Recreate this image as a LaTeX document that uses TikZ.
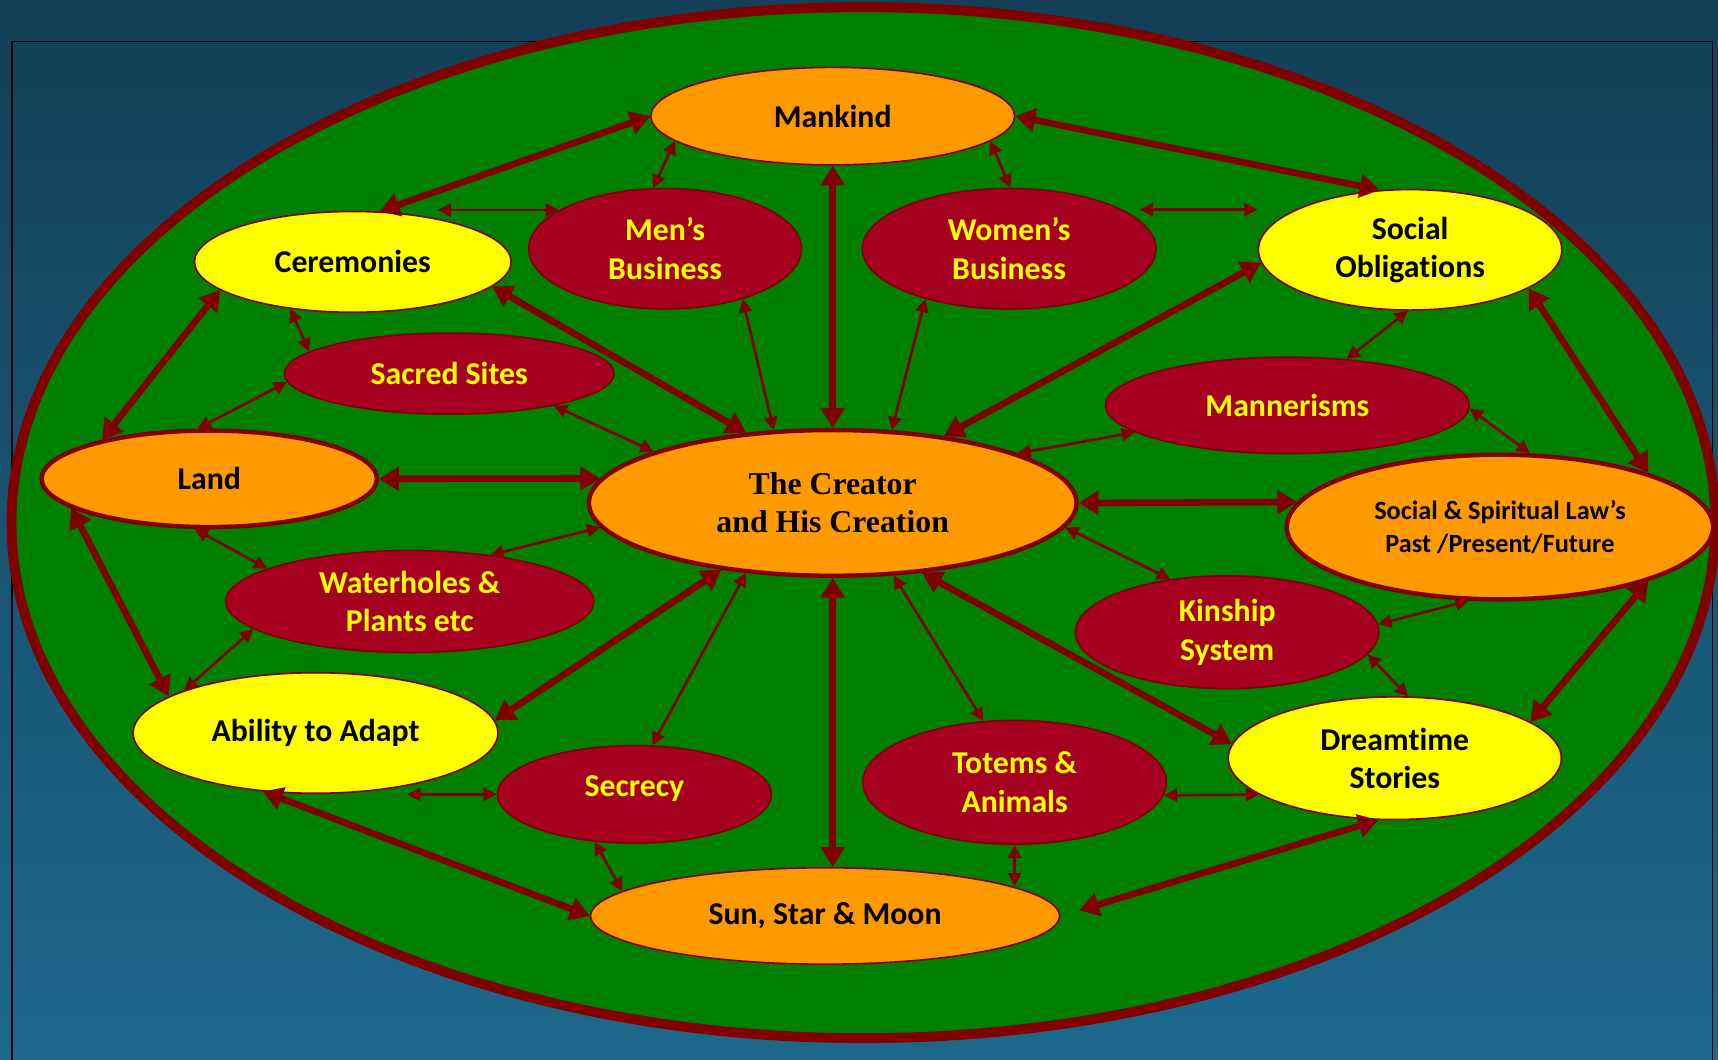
\documentclass[tikz,border=0pt]{standalone}
\usepackage{fontspec}
\setmainfont{Carlito}[Ligatures=NoCommon]
\newfontfamily\timesfam{Liberation Serif}
\usetikzlibrary{arrows.meta, shapes.geometric, positioning}
\definecolor{bgtop}{RGB}{19,63,87}
\definecolor{bgbot}{RGB}{29,104,140}
\definecolor{ringred}{RGB}{128,0,0}
\definecolor{fieldgreen}{RGB}{0,128,0}
\definecolor{ochre}{RGB}{255,153,0}
\definecolor{lemon}{RGB}{255,255,0}
\definecolor{crimson}{RGB}{166,0,33}
\tikzset{
  blob/.style={ellipse, inner sep=0pt, align=center, draw=ringred, line width=1.5pt,
    font=\bfseries\fontsize{29}{35}\selectfont},
  orangeblob/.style={blob, fill=ochre, text=black},
  yellowblob/.style={blob, fill=lemon, text=black},
  redblob/.style={blob, fill=crimson, text=lemon},
  fat/.style={draw=ringred, line width=6pt,
    {Triangle[length=18pt,width=21pt]}-{Triangle[length=18pt,width=21pt]}},
  slim/.style={draw=ringred, line width=2.4pt,
    {Triangle[length=12pt,width=12pt]}-{Triangle[length=12pt,width=12pt]}},
}
\begin{document}
\begin{tikzpicture}[x=1pt, y=-1pt]
            \useasboundingbox (0,0) rectangle (1568,967);
            \shade[top color=bgtop, bottom color=bgbot] (0,0) rectangle (1568,967);
            \draw[black, line width=1.5pt] (11,38) rectangle (1563,990);
            \draw[ringred, fill=fieldgreen, line width=9pt] (788,477) ellipse [x radius=777.5, y radius=470.5];

            \node[orangeblob, minimum width=332pt, minimum height=89pt] (man) at (760,106) {Mankind};
            \node[yellowblob, minimum width=289pt, minimum height=92pt] (cer) at (322,239) {Ceremonies};
            \node[redblob, minimum width=249pt, minimum height=110pt] (men) at (607,227) {Men’s\\Business};
            \node[redblob, minimum width=268pt, minimum height=110pt] (wom) at (921,227) {Women’s\\Business};
            \node[yellowblob, minimum width=277pt, minimum height=110pt] (soc) at (1287,228) {Social\\Obligations};
            \node[redblob, minimum width=301pt, minimum height=74pt] (sac) at (410,341) {Sacred Sites};
            \node[redblob, minimum width=332pt, minimum height=88pt] (mnr) at (1175,370) {Mannerisms};
            \node[orangeblob, line width=4pt, minimum width=306pt, minimum height=88pt] (land) at (191,437) {Land};
            \node[orangeblob, line width=4pt, minimum width=445pt, minimum height=133pt,
                  font=\timesfam\bfseries\fontsize{29}{35}\selectfont] (cre) at (760,459) {The Creator\\and His Creation};
            \node[orangeblob, line width=4pt, minimum width=389pt, minimum height=132pt,
                  font=\bfseries\fontsize{24}{30}\selectfont] (law) at (1369,481) {Social \& Spiritual Law’s\\Past /Present/Future};
            \node[redblob, minimum width=336pt, minimum height=93pt] (wat) at (374,549) {Waterholes \&\\Plants etc};
            \node[redblob, minimum width=277pt, minimum height=103pt] (kin) at (1120,577) {Kinship\\System};
            \node[yellowblob, minimum width=333pt, minimum height=110pt] (abl) at (288,669) {Ability to Adapt};
            \node[yellowblob, minimum width=304pt, minimum height=112pt] (drm) at (1273,692) {Dreamt\kern0pt ime\\Stories};
            \node[redblob, minimum width=250pt, minimum height=89pt, text depth=16pt] (sec) at (579,725) {Secrecy};
            \node[redblob, minimum width=277pt, minimum height=113pt] (tot) at (926,714) {Totems \&\\Animals};
            \node[orangeblob, minimum width=428pt, minimum height=88pt] (sun) at (753,836) {Sun, Star \& Moon};

            \draw[fat] (cer.62) -- (man.180);
            \draw[fat] (man.0) -- (soc.117);
            \draw[fat] (man.south) -- (cre.north);
            \draw[fat] (cer.-10) -- (cre.141);
            \draw[fat] (soc.185) -- (cre.31);
            \draw[fat] (cer.192) -- (land.160);
            \draw[fat] (land.east) -- (cre.174);
            \draw[fat] (cre.east) -- (law.173);
            \draw[fat] (soc.-18) -- (law.20);
            \draw[fat] (land.192) -- (abl.166);
            \draw[fat] (abl.4) -- (cre.211);
            \draw[fat] (cre.-38) -- (drm.175);
            \draw[fat] (law.-20) -- (drm.15);
            \draw[fat] (cre.south) -- (cre.south |- sun.north);
            \draw[fat] (abl.228) -- (sun.west);
            \draw[fat, shorten <=18pt] (sun.east) -- (drm.-105);

            \draw[slim] (man.189) -- (men.101);
            \draw[slim] (man.-9) -- (wom.89);
            \draw[slim] (men.160 -| cer.27) -- (men.160);
            \draw[slim, shorten <=16pt] (wom.19) -- (wom.19 -| soc.west);
            \draw[slim] (men.-33) -- (cre.129);
            \draw[slim] (wom.211) -- (cre.51);
            \draw[slim] (cer.217) -- (sac.171);
            \draw[slim] (sac.183) -- (land.103);
            \draw[slim] (sac.-17) -- (cre.164);
            \draw[slim] (soc.268) -- (mnr.38);
            \draw[slim] (mnr.190) -- (cre.15);
            \draw[slim] (mnr.-1) -- (law.68);
            \draw[slim] (land.254) -- (wat.167);
            \draw[slim] (wat.30) -- (cre.186);
            \draw[slim] (wat.190) -- (abl.162);
            \draw[slim] (cre.-6) -- (kin.137);
            \draw[slim] (kin.3) -- (law.247);
            \draw[slim] (kin.-9) -- (drm.78);
            \draw[slim] (sec.70) -- (cre.219);
            \draw[slim] (tot.117) -- (cre.-50);
            \draw[slim] (sec.west -| abl.-30) -- (sec.west);
            \draw[slim] (tot.-5) -- (drm.195);
            \draw[slim] (sec.230) -- (sun.173);
            \draw[slim] (tot.south) -- (tot.south |- sun.9);
        \end{tikzpicture}
\end{document}
